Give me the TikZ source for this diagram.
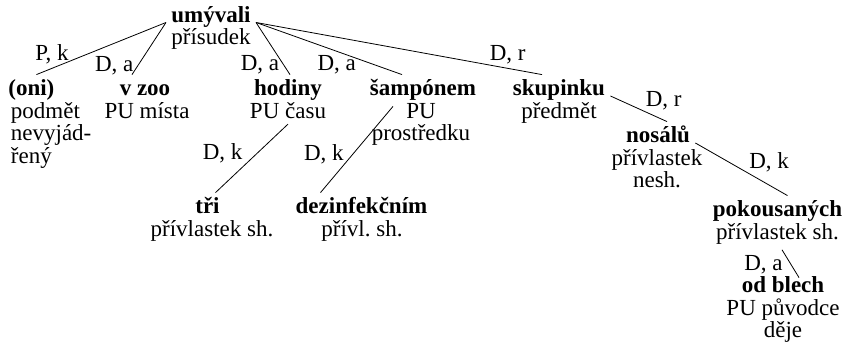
\documentclass[tikz,border=0pt]{standalone}
\usepackage{fontspec}
\setmainfont{Liberation Serif}
\newcommand{\treefont}{\fontsize{11.5}{11.25}\selectfont}
\tikzset{
  word/.style={font=\treefont\bfseries, anchor=base, inner sep=2.5pt, text height=8pt, text depth=2.5pt},
  role/.style={font=\treefont, anchor=base, align=center, inner sep=2.5pt},
  lab/.style={font=\treefont, inner sep=2pt},
}
\begin{document}
\begin{tikzpicture}[x=0.5pt,y=-0.5pt]
\useasboundingbox (0,0) rectangle (844,346);
% root
\node[word] (umyvali) at (211,22.5) {umývali};
\node[role] (umyvali-r) at (211,45) {přísudek};
% first level (multi-line roles sit on their last line)
\node[word, anchor=base west] (oni) at (3,96) {(oni)};
\node[role, anchor=base west, align=left] (oni-r) at (5.5,163.5) {podmět\\nevyjád-\\řený};
\node[word] (vzoo) at (145,96) {v zoo};
\node[role] (vzoo-r) at (147,118.5) {PU místa};
\node[word] (hodiny) at (288,96) {hodiny};
\node[role] (hodiny-r) at (288,118.5) {PU času};
\node[word] (sampon) at (423,96) {šampónem};
\node[role] (sampon-r) at (421,141) {PU\\prostředku};
\node[word] (skupinku) at (559,96) {skupinku};
\node[role] (skupinku-r) at (559,118.5) {předmět};
% lower levels
\node[word] (tri) at (207.5,214) {tři};
\node[role] (tri-r) at (212,236.5) {přívlastek sh.};
\node[word] (dezinf) at (361.5,214) {dezinfekčním};
\node[role] (dezinf-r) at (362,236.5) {přívl.\ sh.};
\node[word] (nosalu) at (658,143) {nosálů};
\node[role] (nosalu-r) at (657,188) {přívlastek\\nesh.};
\node[word] (pokous) at (777.5,217) {pokousaných};
\node[role] (pokous-r) at (777.5,239.5) {přívlastek sh.};
\node[word] (odblech) at (783,293) {od blech};
\node[role] (odblech-r) at (783,338) {PU původce\\děje};
% edges
\draw (umyvali.base west) -- node[lab,pos=.88,above] (l1) {P, k} ([xshift=2.5pt]oni.north);
\draw (umyvali.base west) -- node[lab,pos=.83,left] (l2) {D, a} ([xshift=-6.5pt]vzoo.north);
\draw (umyvali.base east) -- node[lab,pos=.81,left] (l3) {D, a} ([xshift=1pt]hodiny.north);
\draw (umyvali.base east) -- node[lab,pos=.81,left=7pt] (l4) {D, a} ([xshift=-10.5pt]sampon.north);
\draw (umyvali.base east) -- node[lab,pos=.88,above] (l5) {D, r} ([xshift=-8.5pt]skupinku.north);
\draw (hodiny-r.south) -- node[lab,pos=.43,left=5pt] (l6) {D, k} ([xshift=4pt]tri.north);
\draw ([xshift=-15pt]sampon.south) -- node[lab,pos=.55,left=2.5pt] (l7) {D, k} ([xshift=-20.5pt]dezinf.north);
\draw (skupinku.base east) -- node[lab,pos=.6,above right=-1.5pt] (l8) {D, r} ([xshift=4.5pt]nosalu.north);
\draw (nosalu.base east) -- node[lab,pos=.57,above right=-1.5pt] (l9) {D, k} ([xshift=5pt]pokous.north);
\draw ([xshift=2.25pt]pokous-r.south) -- node[lab,pos=.53,left=2pt] (l10) {D, a} ([xshift=8pt,yshift=-3pt]odblech.north);
\end{tikzpicture}
\end{document}
